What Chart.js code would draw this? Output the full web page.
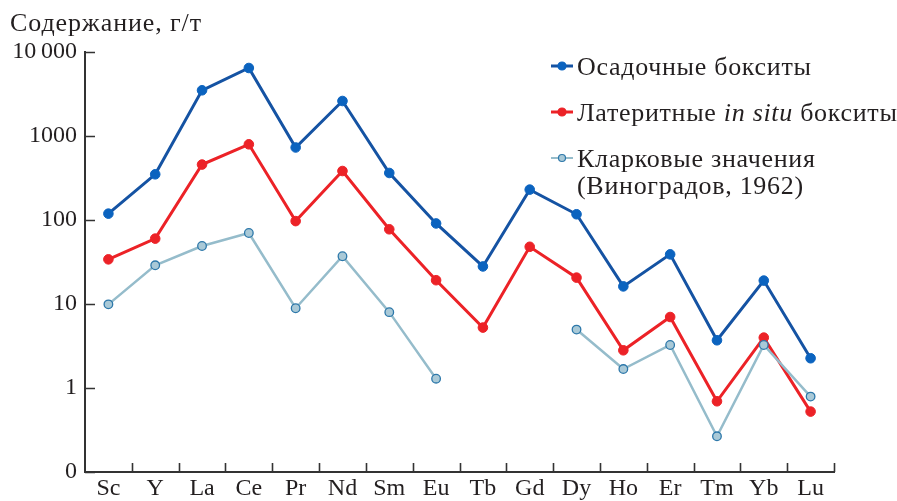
<!DOCTYPE html>
<html>
<head>
<meta charset="utf-8">
<script src="https://cdn.jsdelivr.net/npm/chart.js@4.4.1/dist/chart.umd.min.js"></script>
<style>
  html, body { margin: 0; padding: 0; background: #fff; }
  #wrap { width: 897px; height: 501px; position: relative; }
</style>
</head>
<body>
<div id="wrap"><canvas id="c" width="897" height="501"></canvas></div>
<script>
// Rare earth elements (plus Sc and Y) along the x axis
const elements = ['Sc','Y','La','Ce','Pr','Nd','Sm','Eu','Tb','Gd','Dy','Ho','Er','Tm','Yb','Lu'];

// Content, g/t
const sedimentary = [119, 350, 3500, 6450, 730, 2610, 363, 91, 28, 230, 117, 16.2, 39, 3.7, 19, 2.26];
const lateriteInSitu = [34, 60, 457, 796, 97, 383, 77.5, 19.2, 5.24, 48, 20.6, 2.81, 7.0, 0.695, 3.98, 0.524];
const clarke = [9.9, 28.9, 49, 70, 8.9, 37, 8.0, 1.29, null, null, 4.96, 1.68, 3.25, 0.266, 3.25, 0.79];

// Y tick values and their labels
const yTickValues = [0.1, 1, 10, 100, 1000, 10000];
const yTickLabels = ['0', '1', '10', '100', '1000', '10\u2009000'];

const seriesNames = ['Осадочные бокситы', 'Латеритные in situ бокситы', 'Кларковые значения', '(Виноградов, 1962)'];

const FONT = '"Liberation Serif", "DejaVu Serif", serif';
const INK = '#231f20';

const BLUE_LINE = '#1553a3', BLUE_PT = '#0b63bf';
const RED_LINE = '#ec2227', RED_PT = '#ec2227';
const PALE_LINE = '#95bccb', PALE_PT = '#a9c9d7', PALE_EDGE = '#2d78aa';

// Inward tick marks on both axes, plus the axis title
const axisDecor = {
  id: 'axisDecor',
  afterDraw(chart) {
    const ctx = chart.ctx;
    const x = chart.scales.x, y = chart.scales.y;
    const area = chart.chartArea;
    ctx.save();
    ctx.strokeStyle = '#333';
    ctx.lineWidth = 1.6;
    ctx.beginPath();
    yTickValues.forEach(v => {
      const py = Math.round(y.getPixelForValue(v)) + 0.5;
      ctx.moveTo(area.left, py);
      ctx.lineTo(area.left + 10, py);
    });
    const n = elements.length;
    for (let i = 1; i <= n; i++) {
      const px = i < n ? (x.getPixelForValue(i - 1) + x.getPixelForValue(i)) / 2 : area.right;
      ctx.moveTo(Math.round(px) + 0.5, area.bottom);
      ctx.lineTo(Math.round(px) + 0.5, area.bottom - 9);
    }
    ctx.stroke();

    ctx.fillStyle = INK;
    ctx.font = '26px ' + FONT;
    ctx.letterSpacing = '0.9px';
    ctx.textBaseline = 'alphabetic';
    ctx.textAlign = 'left';
    ctx.fillText('Содержание, г/т', 10, 31);
    ctx.restore();
  }
};

// Legend with mixed roman/italic text
const sideLegend = {
  id: 'sideLegend',
  afterDraw(chart) {
    const ctx = chart.ctx;
    ctx.save();
    const symX0 = 551, symX1 = 573, textX = 577;
    const rows = [
      { y: 66, line: BLUE_LINE, pt: BLUE_PT, edge: BLUE_PT, r: 4, w: 3 },
      { y: 112, line: RED_LINE, pt: RED_PT, edge: RED_PT, r: 4, w: 3 },
      { y: 158, line: PALE_LINE, pt: PALE_PT, edge: PALE_EDGE, r: 3.5, w: 2 }
    ];
    rows.forEach(r => {
      ctx.strokeStyle = r.line;
      ctx.lineWidth = r.w;
      ctx.beginPath();
      ctx.moveTo(symX0, r.y); ctx.lineTo(symX1, r.y); ctx.stroke();
      ctx.beginPath();
      ctx.arc((symX0 + symX1) / 2, r.y, r.r, 0, Math.PI * 2);
      ctx.fillStyle = r.pt; ctx.fill();
      ctx.lineWidth = 1.2; ctx.strokeStyle = r.edge; ctx.stroke();
    });
    ctx.fillStyle = INK;
    ctx.textBaseline = 'alphabetic';
    ctx.textAlign = 'left';
    ctx.letterSpacing = '0.7px';
    const roman = '26px ' + FONT, italic = 'italic 26px ' + FONT;
    const base = 8.5;
    ctx.font = roman;
    ctx.fillText(seriesNames[0], textX, rows[0].y + base);
    // second row: "Латеритные " + italic "in situ" + " бокситы"
    const parts = [['Латеритные ', roman], ['in situ', italic], [' бокситы', roman]];
    let cx = textX;
    parts.forEach(([t, f]) => {
      ctx.font = f;
      ctx.fillText(t, cx, rows[1].y + base);
      cx += ctx.measureText(t).width;
    });
    ctx.font = roman;
    ctx.fillText(seriesNames[2], textX, rows[2].y + base);
    ctx.fillText(seriesNames[3], textX, rows[2].y + base + 27);
    ctx.restore();
  }
};

new Chart(document.getElementById('c'), {
  type: 'line',
  data: {
    labels: elements,
    datasets: [
      {
        label: seriesNames[2],
        data: clarke,
        borderColor: PALE_LINE, borderWidth: 2.5,
        pointBackgroundColor: PALE_PT, pointBorderColor: PALE_EDGE,
        pointBorderWidth: 1.3, pointRadius: 4.3,
        spanGaps: false, tension: 0
      },
      {
        label: 'Латеритные in situ бокситы',
        data: lateriteInSitu,
        borderColor: RED_LINE, borderWidth: 3,
        pointBackgroundColor: RED_PT, pointBorderColor: RED_PT,
        pointBorderWidth: 1, pointRadius: 4.8, tension: 0
      },
      {
        label: seriesNames[0],
        data: sedimentary,
        borderColor: BLUE_LINE, borderWidth: 3,
        pointBackgroundColor: BLUE_PT, pointBorderColor: BLUE_PT,
        pointBorderWidth: 1, pointRadius: 4.8, tension: 0
      }
    ]
  },
  options: {
    responsive: false,
    animation: false,
    events: [],
    layout: { padding: { top: 52, right: 63, left: 0, bottom: 0 } },
    plugins: { legend: { display: false }, tooltip: { enabled: false } },
    scales: {
      x: {
        type: 'category',
        offset: true,
        grid: { display: false, drawTicks: false },
        border: { display: true, color: '#333', width: 2 },
        ticks: { color: INK, font: { family: FONT, size: 24 }, padding: 2, maxRotation: 0, autoSkip: false },
        afterFit(s) { s.height = 29; }
      },
      y: {
        type: 'logarithmic',
        min: 0.1, max: 10000,
        grid: { display: false, drawTicks: false },
        border: { display: true, color: '#333', width: 2 },
        afterBuildTicks(s) { s.ticks = yTickValues.map(v => ({ value: v })); },
        ticks: {
          color: INK, font: { family: FONT, size: 24 }, padding: 8,
          callback(v) { const i = yTickValues.indexOf(v); return i >= 0 ? yTickLabels[i] : ''; }
        },
        afterFit(s) { s.width = 85; }
      }
    }
  },
  plugins: [axisDecor, sideLegend]
});
</script>
</body>
</html>
